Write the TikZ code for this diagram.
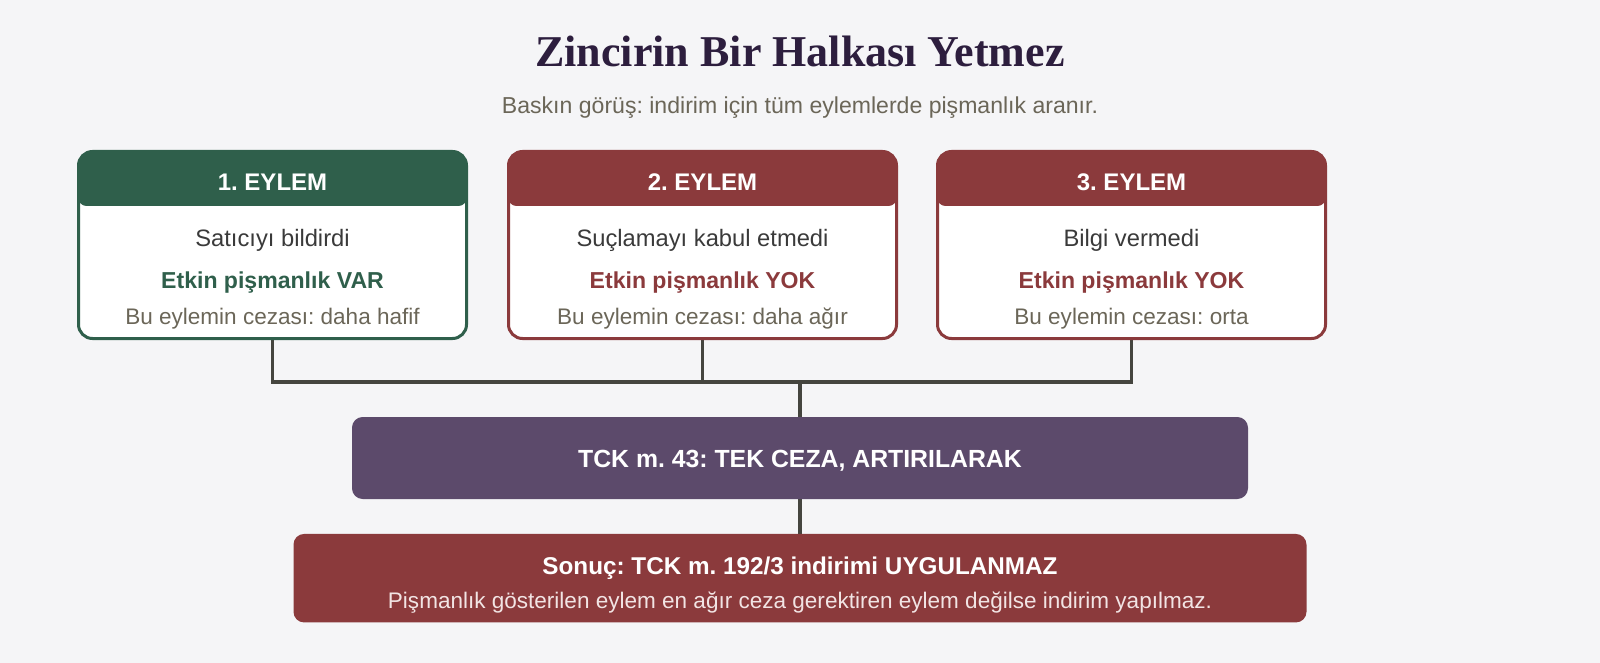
\documentclass[tikz,border=0pt]{standalone}
\usepackage{fontspec}
\setmainfont{Liberation Sans}
\newfontfamily\titlefont{Liberation Serif}
\usetikzlibrary{calc}
\definecolor{bgc}{HTML}{F5F5F7}
\definecolor{grn}{HTML}{2F5F4B}
\definecolor{rd}{HTML}{8B3A3C}
\definecolor{prp}{HTML}{5C4A6B}
\definecolor{ttl}{HTML}{2D1E3E}
\definecolor{gry}{HTML}{6B6658}
\definecolor{body}{HTML}{3A3A3A}
\definecolor{conn}{HTML}{45453F}
\definecolor{lite}{HTML}{F2E4E4}
\pgfdeclarelayer{back}
\pgfdeclarelayer{lines}
\pgfsetlayers{back,lines,main}
\frenchspacing
\tikzset{
  card/.style={rectangle, fill=white, minimum width=291pt, minimum height=140.25pt, inner sep=0pt, outer sep=0pt, rounded corners=10.5pt},
  txt/.style={inner sep=0pt, anchor=base},
  connline/.style={draw=conn, line width=2.4pt},
  bigbox/.style={rectangle, rounded corners=8pt, inner sep=0pt, outer sep=0pt},
}
\newcommand\eylembox[8]{%
  \node[card, anchor=north west] (#1) at (#2+1.5,151.5) {};
  \begin{scope}
    \clip[rounded corners=10.5pt] (#1.north west) rectangle (#1.south east);
    \fill[#3, rounded corners=6pt] ($(#1.north west)+(0,-20)$) rectangle ($(#1.north east)+(0,54.5)$);
  \end{scope}
  \draw[#3, line width=2.25pt, rounded corners=10.5pt] (#1.north west) rectangle (#1.south east);
  \node[txt, text=white, font=\fontsize{18}{21}\selectfont\bfseries] (#1h) at ($(#1.north)+(0,39.2)$) {#4};
  \node[txt, text=body, font=\fontsize{17.8}{21}\selectfont] (#1a) at ($(#1.north)+(0,95.2)$) {#5};
  \node[txt, text=#6, font=\fontsize{17.3}{21}\selectfont\bfseries] (#1b) at ($(#1.north)+(0,136.8)$) {#7};
  \node[txt, text=gry, font=\fontsize{16.9}{21}\selectfont] (#1c) at ($(#1.north)+(0,172.5)$) {#8};
}
\begin{document}
\begin{tikzpicture}[x=0.75pt,y=-0.75pt]
\begin{pgfonlayer}{back}
\fill[bgc] (0,0) rectangle (1600,663);
\end{pgfonlayer}
\useasboundingbox (0,0) rectangle (1600,663);

\node[txt, text=ttl, font=\titlefont\fontsize{33}{36}\selectfont\bfseries] (title) at (800,66.7) {Zincirin Bir Halkası Yetmez};
\node[txt, text=gry, font=\fontsize{17.3}{20}\selectfont] (sub) at (800,113.3) {Baskın görüş: indirim için tüm eylemlerde pişmanlık aranır.};

\eylembox{b1}{77}{grn}{1. EYLEM}{Satıcıyı bildirdi}{grn}{Etkin pişmanlık VAR}{Bu eylemin cezası: daha hafif}
\eylembox{b2}{507}{rd}{2. EYLEM}{Suçlamayı kabul etmedi}{rd}{Etkin pişmanlık YOK}{Bu eylemin cezası: daha ağır}
\eylembox{b3}{936}{rd}{3. EYLEM}{Bilgi vermedi}{rd}{Etkin pişmanlık YOK}{Bu eylemin cezası: orta}

\node[bigbox, fill=prp, minimum width=672pt, minimum height=61.5pt] (tck) at (800,458) {};
\node[txt, text=white, font=\fontsize{18.6}{22}\selectfont\bfseries] (tckt) at (800,467.3) {TCK m. 43: TEK CEZA, ARTIRILARAK};

\node[bigbox, fill=rd, minimum width=759.75pt, minimum height=66.4pt] (res) at (800,578.2) {};
\node[txt, text=white, font=\fontsize{18.2}{22}\selectfont\bfseries] (rest) at (800,574) {Sonuç: TCK m. 192/3 indirimi UYGULANMAZ};
\node[txt, text=lite, font=\fontsize{16.9}{20}\selectfont] (resd) at (800,608.3) {Pişmanlık gösterilen eylem en ağır ceza gerektiren eylem değilse indirim yapılmaz.};

\coordinate (jn) at (800,382);
\begin{pgfonlayer}{lines}
\draw[connline] (b1.south) |- (b3.south |- jn) -- (b3.south);
\draw[connline] (b2.south) -- (b2.south |- jn);
\draw[connline] (jn) -- (tck.north);
\draw[connline] (tck.south) -- (res.north);
\end{pgfonlayer}
\end{tikzpicture}
\end{document}
